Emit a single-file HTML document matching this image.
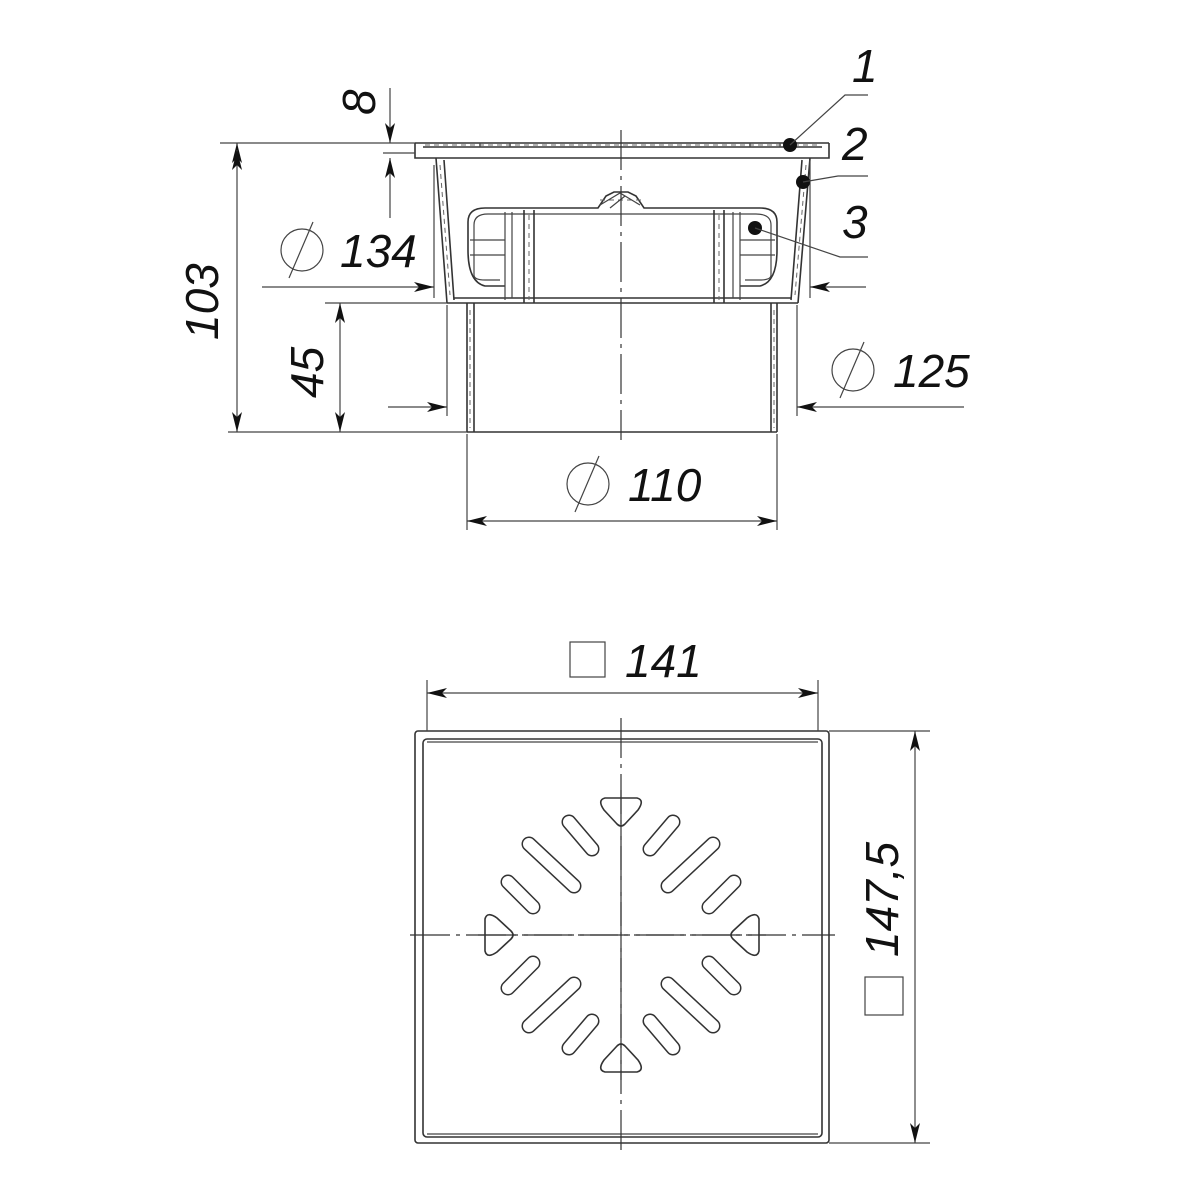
<!DOCTYPE html>
<html><head><meta charset="utf-8"><style>
html,body{margin:0;padding:0;background:#fff;width:1200px;height:1200px;overflow:hidden}
svg{display:block}
text{font-family:"Liberation Sans",sans-serif;font-style:italic;fill:#111;font-size:46px}
.t{stroke:#444;stroke-width:1.2;fill:none}
.m{stroke:#333;stroke-width:1.6;fill:none}
.c{stroke:#333;stroke-width:1.2;fill:none;stroke-dasharray:40,6,4,6}
.h{stroke:#666;stroke-width:1;fill:none;stroke-dasharray:5,4}
</style></head><body>
<svg width="1200" height="1200" viewBox="0 0 1200 1200">
<defs>
<marker id="a" viewBox="0 0 20 10" refX="20" refY="5" markerWidth="20" markerHeight="10" markerUnits="userSpaceOnUse" orient="auto-start-reverse">
<path d="M0,0 L20,5 L0,10 L5,5 Z" fill="#111"/></marker>
</defs>

<!-- ===== TOP VIEW (section) ===== -->
<!-- flange -->
<path class="m" d="M415,143 H829 M415,143 V158 H436 M829,143 V158 H810 M423,147 H822 M436,158 H810"/>
<path class="h" d="M425,145 H820"/>
<path class="t" d="M480,143 v4 M510,143 v4 M750,143 v4 M780,143 v4"/>
<!-- body walls -->
<path class="m" d="M436,158 L447,303 M444,160 L454,300 M810,158 L798,303 M802,160 L791,300"/>
<path class="h" d="M440,165 L450,295 M806,165 L795,295"/>
<path class="m" d="M447,303 H798 M454,298 H791"/>
<!-- trap cup -->
<path class="m" d="M468,250 V222 Q468,208 485,208 H598 L606,196 L614,192 L628,192 L636,196 L644,208 H760 Q777,208 777,222 V250 Q777,282 760,286 H740"/>
<path class="m" d="M468,250 Q468,282 485,286 H505"/>
<path class="t" d="M474,250 V225 Q474,214 488,214 H756 Q771,214 771,225 V275 Q771,280 760,280 H745 M474,250 V275 Q474,280 485,280 H500"/>
<path class="t" d="M470,240 H505 M740,240 H775 M470,255 H505 M740,255 H775"/>
<path class="t" d="M505,212 V300 M512,212 V298 M740,212 V300 M733,212 V298"/>
<path class="m" d="M524,210 V303 M534,210 V303 M714,210 V303 M724,210 V303"/>
<path class="h" d="M529,215 V300 M719,215 V300 M600,200 L642,200"/>
<path class="t" d="M600,205 L620,193 L640,205 M610,208 L625,196"/>
<!-- pipe -->
<path class="m" d="M467,303 V432 M474,303 V432 M777,303 V432 M771,303 V432 M467,432 H777"/>
<path class="h" d="M470,310 V428 M774,310 V428"/>
<path class="c" d="M621,130 V440"/>

<!-- dimensions top -->
<path class="t" d="M220,143 H415 M228,432 H467 M325,303 H447"/>
<line class="t" x1="237" y1="150" x2="237" y2="143" marker-end="url(#a)"/>
<line class="t" x1="237" y1="150" x2="237" y2="432" marker-end="url(#a)" marker-start="url(#a)"/>
<line class="t" x1="340" y1="320" x2="340" y2="432" marker-end="url(#a)"/>
<line class="t" x1="340" y1="320" x2="340" y2="303" marker-end="url(#a)"/>
<path class="t" d="M383,153 H415"/>
<line class="t" x1="390" y1="88" x2="390" y2="143" marker-end="url(#a)"/>
<line class="t" x1="390" y1="218" x2="390" y2="158" marker-end="url(#a)"/>
<path class="t" d="M434,165 V298 M810,160 V298 M447,305 V416 M797,305 V416 M467,434 V530 M777,434 V530"/>
<line class="t" x1="262" y1="287" x2="434" y2="287" marker-end="url(#a)"/>
<line class="t" x1="866" y1="287" x2="810" y2="287" marker-end="url(#a)"/>
<line class="t" x1="388" y1="407" x2="447" y2="407" marker-end="url(#a)"/>
<line class="t" x1="964" y1="407" x2="797" y2="407" marker-end="url(#a)"/>
<line class="t" x1="620" y1="521" x2="467" y2="521" marker-end="url(#a)"/>
<line class="t" x1="620" y1="521" x2="777" y2="521" marker-end="url(#a)"/>

<text transform="translate(218,340) rotate(-90)">103</text>
<text transform="translate(323,398) rotate(-90)">45</text>
<text transform="translate(375,115) rotate(-90)">8</text>
<circle class="t" cx="302" cy="250" r="21"/><line class="t" x1="289" y1="278" x2="313" y2="222"/>
<text x="340" y="267">134</text>
<circle class="t" cx="853" cy="370" r="21"/><line class="t" x1="840" y1="398" x2="864" y2="342"/>
<text x="893" y="387">125</text>
<circle class="t" cx="588" cy="484" r="21"/><line class="t" x1="575" y1="512" x2="599" y2="456"/>
<text x="628" y="501">110</text>

<!-- leaders -->
<circle cx="790" cy="145" r="7" fill="#111"/>
<circle cx="803" cy="182" r="7" fill="#111"/>
<circle cx="755" cy="228" r="7" fill="#111"/>
<path class="t" d="M790,145 L845,95 H868 M803,182 L838,176 H868 M755,228 L840,257 H868"/>
<text x="852" y="82">1</text>
<text x="842" y="160">2</text>
<text x="842" y="238">3</text>

<!-- ===== BOTTOM VIEW (grate) ===== -->
<rect class="m" x="415" y="731" width="414" height="412" rx="3"/>
<rect class="m" x="423" y="739" width="399" height="398" rx="4"/>
<path class="t" d="M427,742 H818 M427,1134 H818"/>
<path class="c" d="M621,718 V1155 M410,935 H835"/>
<g class="m" stroke-linecap="round">
<g id="q">
<line x1="569" y1="822" x2="592" y2="849" stroke-width="15"/>
<line x1="529" y1="844" x2="574" y2="886" stroke-width="15"/>
<line x1="508" y1="882" x2="533" y2="907" stroke-width="15"/>
</g>
</g>
<g stroke="#fff" stroke-linecap="round" fill="none">
<line x1="569" y1="822" x2="592" y2="849" stroke-width="12"/>
<line x1="529" y1="844" x2="574" y2="886" stroke-width="12"/>
<line x1="508" y1="882" x2="533" y2="907" stroke-width="12"/>
</g>
<g transform="translate(1242,0) scale(-1,1)">
<g stroke="#333" stroke-linecap="round" fill="none">
<line x1="569" y1="822" x2="592" y2="849" stroke-width="15"/>
<line x1="529" y1="844" x2="574" y2="886" stroke-width="15"/>
<line x1="508" y1="882" x2="533" y2="907" stroke-width="15"/></g>
<g stroke="#fff" stroke-linecap="round" fill="none">
<line x1="569" y1="822" x2="592" y2="849" stroke-width="12"/>
<line x1="529" y1="844" x2="574" y2="886" stroke-width="12"/>
<line x1="508" y1="882" x2="533" y2="907" stroke-width="12"/></g>
</g>
<g transform="translate(0,1870) scale(1,-1)">
<g stroke="#333" stroke-linecap="round" fill="none">
<line x1="569" y1="822" x2="592" y2="849" stroke-width="15"/>
<line x1="529" y1="844" x2="574" y2="886" stroke-width="15"/>
<line x1="508" y1="882" x2="533" y2="907" stroke-width="15"/></g>
<g stroke="#fff" stroke-linecap="round" fill="none">
<line x1="569" y1="822" x2="592" y2="849" stroke-width="12"/>
<line x1="529" y1="844" x2="574" y2="886" stroke-width="12"/>
<line x1="508" y1="882" x2="533" y2="907" stroke-width="12"/></g>
</g>
<g transform="translate(1242,1870) scale(-1,-1)">
<g stroke="#333" stroke-linecap="round" fill="none">
<line x1="569" y1="822" x2="592" y2="849" stroke-width="15"/>
<line x1="529" y1="844" x2="574" y2="886" stroke-width="15"/>
<line x1="508" y1="882" x2="533" y2="907" stroke-width="15"/></g>
<g stroke="#fff" stroke-linecap="round" fill="none">
<line x1="569" y1="822" x2="592" y2="849" stroke-width="12"/>
<line x1="529" y1="844" x2="574" y2="886" stroke-width="12"/>
<line x1="508" y1="882" x2="533" y2="907" stroke-width="12"/></g>
</g>
<!-- tabs -->
<path class="m" fill="#fff" d="M605,798 H637 Q645,800 638,810 L625,824 Q621,828 617,824 L604,810 Q597,800 605,798 Z"/>
<path class="m" fill="#fff" d="M605,1072 H637 Q645,1070 638,1060 L625,1046 Q621,1042 617,1046 L604,1060 Q597,1070 605,1072 Z"/>
<path class="m" fill="#fff" d="M485,919 V951 Q487,959 497,952 L511,939 Q515,935 511,931 L497,918 Q487,911 485,919 Z"/>
<path class="m" fill="#fff" d="M759,919 V951 Q757,959 747,952 L733,939 Q729,935 733,931 L747,918 Q757,911 759,919 Z"/>
<path class="c" d="M621,790 V1080 M478,935 H766"/>

<!-- grate dims -->
<path class="t" d="M427,680 V731 M818,680 V731 M829,731 H930 M829,1143 H930"/>
<line class="t" x1="620" y1="693" x2="427" y2="693" marker-end="url(#a)"/>
<line class="t" x1="620" y1="693" x2="818" y2="693" marker-end="url(#a)"/>
<line class="t" x1="915" y1="935" x2="915" y2="731" marker-end="url(#a)"/>
<line class="t" x1="915" y1="935" x2="915" y2="1143" marker-end="url(#a)"/>
<rect class="t" x="570" y="642" width="35" height="35"/>
<text x="625" y="677">141</text>
<rect class="t" x="865" y="977" width="38" height="38"/>
<text transform="translate(898,957) rotate(-90)">147,5</text>
</svg>
</body></html>
